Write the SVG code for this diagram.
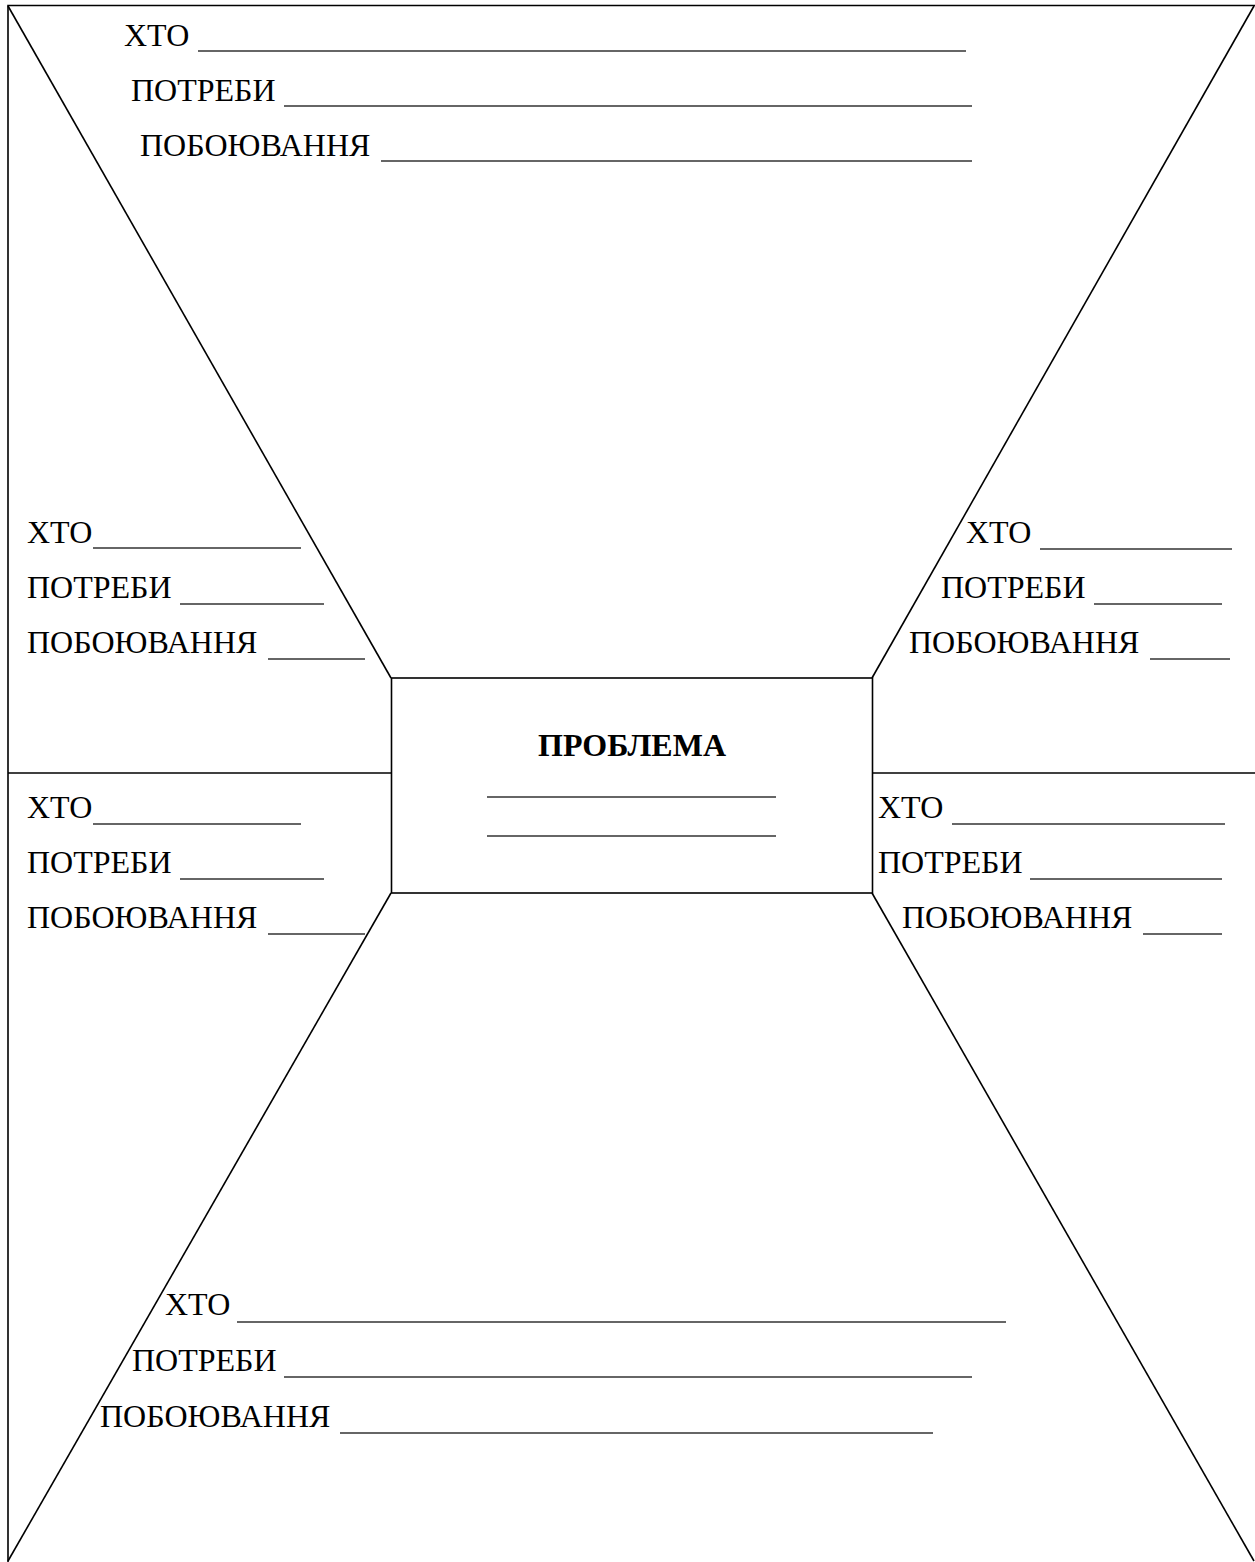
<svg xmlns="http://www.w3.org/2000/svg" width="1255" height="1562" viewBox="0 0 1255 1562">
<style>
.f{fill:none;stroke:#000;stroke-width:1.6}
.u{stroke:#333;stroke-width:1.5}
.t{font-family:"Liberation Serif","Times New Roman",serif;font-size:32px;fill:#000}
.b{font-weight:bold;text-anchor:middle}
</style>
<rect width="1255" height="1562" fill="#fff"/>
<g id="connectors">
<path class="f" d="M8,1562 V5.5 H1256"/>
<line class="f" x1="8" y1="6" x2="391" y2="678"/>
<line class="f" x1="1254" y1="6" x2="872" y2="678"/>
<line class="f" x1="391" y1="893" x2="8" y2="1561"/>
<line class="f" x1="872" y1="893" x2="1254" y2="1561"/>
<line class="f" x1="8" y1="773" x2="391" y2="773"/>
<line class="f" x1="872" y1="773" x2="1256" y2="773"/>
</g>
<g id="problem">
<rect class="f" x="391.5" y="678" width="481" height="215"/>
<text class="t b" x="632" y="756">ПРОБЛЕМА</text>
<line class="u" x1="487" y1="797" x2="776" y2="797"/>
<line class="u" x1="487" y1="836" x2="776" y2="836"/>
</g>
<g id="top">
<text class="t" x="124" y="46">ХТО</text>
<line class="u" x1="198" y1="51" x2="966" y2="51"/>
<text class="t" x="131" y="101">ПОТРЕБИ</text>
<line class="u" x1="284" y1="106" x2="972" y2="106"/>
<text class="t" x="140" y="156">ПОБОЮВАННЯ</text>
<line class="u" x1="381" y1="161" x2="972" y2="161"/>
</g>
<g id="left-upper">
<text class="t" x="27" y="543">ХТО</text>
<line class="u" x1="93" y1="548" x2="301" y2="548"/>
<text class="t" x="27" y="598">ПОТРЕБИ</text>
<line class="u" x1="180" y1="604" x2="324" y2="604"/>
<text class="t" x="27" y="653">ПОБОЮВАННЯ</text>
<line class="u" x1="268" y1="659" x2="365" y2="659"/>
</g>
<g id="right-upper">
<text class="t" x="966" y="543">ХТО</text>
<line class="u" x1="1040" y1="549" x2="1232" y2="549"/>
<text class="t" x="941" y="598">ПОТРЕБИ</text>
<line class="u" x1="1094" y1="604" x2="1222" y2="604"/>
<text class="t" x="909" y="653">ПОБОЮВАННЯ</text>
<line class="u" x1="1150" y1="659" x2="1230" y2="659"/>
</g>
<g id="left-lower">
<text class="t" x="27" y="818">ХТО</text>
<line class="u" x1="93" y1="824" x2="301" y2="824"/>
<text class="t" x="27" y="873">ПОТРЕБИ</text>
<line class="u" x1="180" y1="879" x2="324" y2="879"/>
<text class="t" x="27" y="928">ПОБОЮВАННЯ</text>
<line class="u" x1="268" y1="934" x2="365" y2="934"/>
</g>
<g id="right-lower">
<text class="t" x="878" y="818">ХТО</text>
<line class="u" x1="952" y1="824" x2="1225" y2="824"/>
<text class="t" x="878" y="873">ПОТРЕБИ</text>
<line class="u" x1="1030" y1="879" x2="1222" y2="879"/>
<text class="t" x="902" y="928">ПОБОЮВАННЯ</text>
<line class="u" x1="1143" y1="934" x2="1222" y2="934"/>
</g>
<g id="bottom">
<text class="t" x="165" y="1315">ХТО</text>
<line class="u" x1="237" y1="1322" x2="1006" y2="1322"/>
<text class="t" x="132" y="1371">ПОТРЕБИ</text>
<line class="u" x1="284" y1="1377" x2="972" y2="1377"/>
<text class="t" x="100" y="1427">ПОБОЮВАННЯ</text>
<line class="u" x1="340" y1="1433" x2="933" y2="1433"/>
</g>
</svg>
